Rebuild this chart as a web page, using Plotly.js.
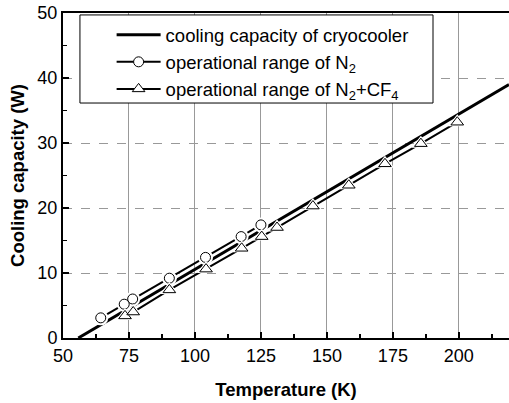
<!DOCTYPE html>
<html><head><meta charset="utf-8">
<script src="https://cdn.plot.ly/plotly-3.0.1.min.js"></script>
<style>html,body{margin:0;padding:0;background:#fff}#chart{width:509px;height:403px}</style>
</head><body><div id="chart"></div>
<script>
// Cooling capacity of cryocooler (line endpoints)
const coolT = [55.8, 219];
const coolW = [0, 39.0];
// Operational range of N2
const n2T = [64.3, 73.2, 76.4, 90.3, 104.0, 117.5, 125.0];
const n2W = [3.1, 5.2, 6.0, 9.2, 12.4, 15.6, 17.4];
// Operational range of N2+CF4
const mixT = [73.5, 76.6, 90.3, 104.2, 117.7, 125.3, 131.1, 144.7, 158.3, 172.0, 185.6, 199.4];
const mixW = [3.4, 4.0, 7.4, 10.6, 13.8, 15.6, 17.0, 20.3, 23.5, 26.8, 29.9, 33.2];
const xTicks = [50, 75, 100, 125, 150, 175, 200];
const yTicks = [0, 10, 20, 30, 40, 50];

const FONT = 'Liberation Sans, Arial, sans-serif';
const traces = [
  {x: coolT, y: coolW, mode: 'lines', name: 'cooling capacity of cryocooler',
   line: {color: '#000', width: 3}},
  {x: n2T, y: n2W, mode: 'lines+markers', name: 'operational range of N<sub>2</sub>',
   line: {color: '#000', width: 2},
   marker: {symbol: 'circle', size: 10, color: '#fff', line: {color: '#000', width: 1}}},
  {x: n2T, y: n2W, mode: 'markers', showlegend: false, hoverinfo: 'skip',
   marker: {symbol: 'circle', size: 15, color: '#fff', line: {width: 0}}},
  {x: n2T, y: n2W, mode: 'markers', showlegend: false, hoverinfo: 'skip',
   marker: {symbol: 'circle', size: 10, color: '#fff', line: {color: '#000', width: 1}}},
  {x: mixT, y: mixW, mode: 'lines+markers', name: 'operational range of N<sub>2</sub>+CF<sub>4</sub>',
   line: {color: '#000', width: 2},
   marker: {symbol: 'triangle-up', size: 11, color: '#fff', line: {color: '#000', width: 1}}},
  {x: mixT, y: mixW, mode: 'markers', showlegend: false, hoverinfo: 'skip',
   marker: {symbol: 'triangle-up', size: 16, color: '#fff', line: {width: 0}}},
  {x: mixT, y: mixW, mode: 'markers', showlegend: false, hoverinfo: 'skip',
   marker: {symbol: 'triangle-up', size: 11, color: '#fff', line: {color: '#000', width: 1}}}
];

const layout = {
  width: 509, height: 403,
  margin: {l: 63, r: 0, t: 13, b: 65},
  paper_bgcolor: '#fff', plot_bgcolor: '#fff',
  font: {family: FONT, color: '#000', size: 18},
  showlegend: true,
  legend: {x: 0.109, y: 0.99, xanchor: 'left', yanchor: 'top',
    bgcolor: 'rgba(0,0,0,0)', borderwidth: 0, itemwidth: 44,
    font: {family: FONT, size: 18.5, color: '#000'}, tracegroupgap: 0},
  shapes: [{type: 'rect', xref: 'paper', yref: 'paper',
    x0: 0.038, x1: 0.8296, y0: 0.723, y1: 0.994,
    fillcolor: '#fff', line: {color: '#000', width: 1}, layer: 'above'}],
  xaxis: {range: [50, 219], tickvals: xTicks, ticktext: xTicks.map(String),
    ticks: 'inside', ticklen: 6, tickwidth: 1.5, tickcolor: '#000',
    minor: {dtick: 12.5, tick0: 50, ticks: 'inside', ticklen: 4, tickcolor: '#000', showgrid: false},
    showline: true, linecolor: '#000', linewidth: 2, mirror: true,
    showgrid: true, gridcolor: '#999', gridwidth: 1, griddash: 'solid',
    zeroline: false, tickfont: {size: 18},
    title: {text: '<b>Temperature (K)</b>', font: {size: 18.5}, standoff: 18}},
  yaxis: {range: [0, 50], tickvals: yTicks, ticktext: yTicks.map(String),
    ticks: 'inside', ticklen: 6, tickwidth: 1.5, tickcolor: '#000',
    minor: {dtick: 5, tick0: 0, ticks: 'inside', ticklen: 4, tickcolor: '#000', showgrid: false},
    showline: true, linecolor: '#000', linewidth: 2, mirror: false,
    showgrid: true, gridcolor: '#999', gridwidth: 1, griddash: 'dash',
    zeroline: false, tickfont: {size: 18},
    title: {text: '<b>Cooling capacity (W)</b>', font: {size: 18.5}, standoff: 8}}
};
Plotly.newPlot('chart', traces, layout, {displayModeBar: false, staticPlot: true});
</script></body></html>
